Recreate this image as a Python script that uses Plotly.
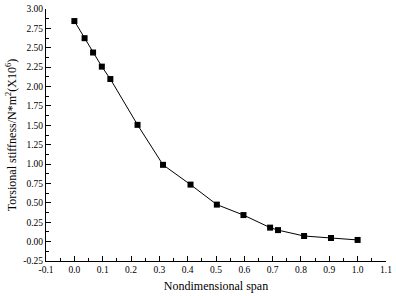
import plotly.graph_objects as go

span = [0.0, 0.036, 0.066, 0.097, 0.127, 0.223, 0.313, 0.41, 0.503, 0.597, 0.691, 0.719, 0.811, 0.906, 1.0]
stiffness = [2.845, 2.624, 2.439, 2.257, 2.097, 1.506, 0.99, 0.735, 0.477, 0.342, 0.18, 0.148, 0.072, 0.046, 0.021]

x_ticks = [round(-0.1 + 0.1 * i, 1) for i in range(13)]
y_ticks = [round(-0.25 + 0.25 * i, 2) for i in range(14)]

fig = go.Figure(go.Scatter(
    x=span, y=stiffness, mode="lines+markers",
    line=dict(color="#000000", width=1),
    marker=dict(symbol="square", size=6, color="#000000"),
    cliponaxis=False,
))

font = dict(family="Liberation Serif, Times New Roman, serif", color="#000000")
fig.update_layout(
    width=396, height=296,
    margin=dict(l=46, r=5, t=4, b=35),
    paper_bgcolor="white", plot_bgcolor="white",
    showlegend=False,
    font=dict(**font, size=9),
    xaxis=dict(
        range=[-0.1002, 1.1002], tickvals=x_ticks, ticktext=[f"{v:.1f}" for v in x_ticks],
        ticks="inside", ticklen=5, tickwidth=1, tickcolor="#000",
        minor=dict(dtick=0.05, tick0=-0.1, ticks="inside", ticklen=3, tickcolor="#000"),
        showline=True, linecolor="#000", linewidth=1, showgrid=False, zeroline=False,
        tickfont=dict(**font, size=9.5),
        ticklabeloverflow="allow",
        title=dict(text="Nondimensional span", font=dict(**font, size=12), standoff=7),
    ),
    yaxis=dict(
        range=[-0.2505, 3.0005], tickvals=y_ticks, ticktext=[f"{v:.2f}" for v in y_ticks],
        ticks="inside", ticklen=5, tickwidth=1, tickcolor="#000",
        minor=dict(dtick=0.125, tick0=-0.25, ticks="inside", ticklen=3, tickcolor="#000"),
        showline=True, linecolor="#000", linewidth=1, showgrid=False, zeroline=False,
        tickfont=dict(**font, size=9.5),
        ticklabeloverflow="allow",
        title=dict(text="Torsional stiffness/N*m<sup>2</sup>(X10<sup>6</sup>)", font=dict(**font, size=12), standoff=4),
    ),
)

fig.write_html("out.html")
